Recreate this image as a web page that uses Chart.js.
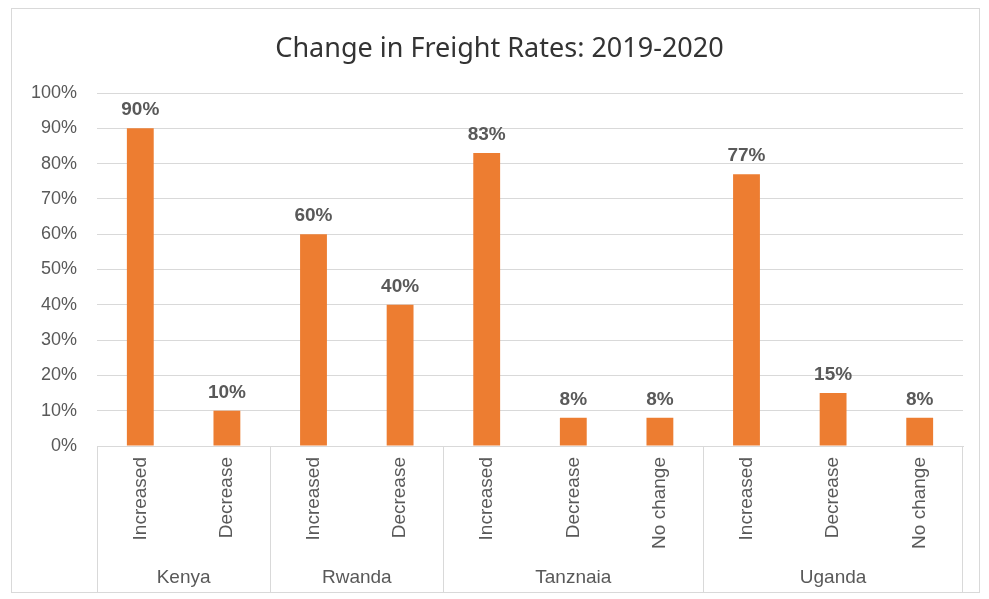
<!DOCTYPE html>
<html lang="en">
<head>
    <meta charset="UTF-8">
    <title>Change in Freight Rates: 2019-2020</title>
    <script src="https://cdn.jsdelivr.net/npm/chart.js"></script>
    <style>
        html, body { margin: 0; padding: 0; background: #fff; }
        .chart-box {
            position: absolute;
            left: 11px;
            top: 8px;
            width: 969px;
            height: 585px;
            box-sizing: border-box;
            border: 1px solid #d9d9d9;
        }
    </style>
</head>
<body>

<div class="chart-box">
    <canvas id="freightChart"></canvas>
</div>

<script>
    // countries and how many answers each one has
    const groups = ['Kenya', 'Rwanda', 'Tanznaia', 'Uganda'];
    const groupSizes = [2, 2, 3, 3];

    // answers, in the same order as the bars
    const categories = [
        'Increased', 'Decrease',
        'Increased', 'Decrease',
        'Increased', 'Decrease', 'No change',
        'Increased', 'Decrease', 'No change'
    ];

    // share of respondents (%)
    const values = [90, 10, 60, 40, 83, 8, 8, 77, 15, 8];

    const yTicks = [0, 10, 20, 30, 40, 50, 60, 70, 80, 90, 100];

    const labelFont = '"Liberation Sans", Arial, sans-serif';
    const grey = '#595959';

    // percentage above every bar
    const barValueLabels = {
        id: 'barValueLabels',
        afterDatasetsDraw(chart) {
            const c = chart.ctx;
            const meta = chart.getDatasetMeta(0);
            c.save();
            c.fillStyle = grey;
            c.font = 'bold 19px ' + labelFont;
            c.textAlign = 'center';
            c.textBaseline = 'alphabetic';
            meta.data.forEach((bar, i) => {
                c.fillText(values[i] + '%', bar.x, bar.y - 13);
            });
            c.restore();
        }
    };

    // second row of the x axis: country names and the lines between them
    const groupAxis = {
        id: 'groupAxis',
        afterDraw(chart) {
            const c = chart.ctx;
            const x = chart.scales.x;
            const area = chart.chartArea;
            const slot = area.width / categories.length;
            const bottom = chart.height;
            c.save();
            c.strokeStyle = '#d9d9d9';
            c.lineWidth = 1;
            c.fillStyle = grey;
            c.font = '19px ' + labelFont;
            c.textAlign = 'center';
            c.textBaseline = 'middle';
            let start = 0;
            groups.forEach((name, g) => {
                const left = x.getPixelForValue(start) - slot / 2;
                const right = x.getPixelForValue(start + groupSizes[g] - 1) + slot / 2;
                c.beginPath();
                c.moveTo(Math.round(left) + 0.5, area.bottom);
                c.lineTo(Math.round(left) + 0.5, bottom);
                if (g === groups.length - 1) {
                    c.moveTo(Math.round(right) - 0.5, area.bottom);
                    c.lineTo(Math.round(right) - 0.5, bottom);
                }
                c.stroke();
                c.fillText(name, (left + right) / 2, 569);
                start += groupSizes[g];
            });
            c.restore();
        }
    };

    // centre the title on the whole canvas rather than the padded box
    const titleCentre = {
        id: 'titleCentre',
        afterLayout(chart) {
            const t = chart.titleBlock;
            if (!t) return;
            const shift = (chart.width - (t.left + t.right)) / 2 + 4;
            t.left += shift;
            t.right += shift;
        }
    };

    const ctx = document.getElementById('freightChart').getContext('2d');

    new Chart(ctx, {
        type: 'bar',
        data: {
            labels: categories,
            datasets: [{
                data: values,
                backgroundColor: '#ED7D31',
                borderWidth: 0,
                categoryPercentage: 1,
                barPercentage: 0.31
            }]
        },
        options: {
            responsive: true,
            maintainAspectRatio: false,
            animation: false,
            layout: {
                padding: { left: 0, right: 16, top: 0, bottom: 0 }
            },
            plugins: {
                legend: { display: false },
                tooltip: { enabled: false },
                title: {
                    display: true,
                    text: 'Change in Freight Rates: 2019-2020',
                    color: '#333333',
                    font: { family: '"Noto Sans", "Open Sans", sans-serif', size: 27, weight: 'normal' },
                    padding: { top: 24, bottom: 27.6 }
                }
            },
            scales: {
                x: {
                    grid: { display: false, drawTicks: false },
                    border: { display: true, color: '#d9d9d9' },
                    ticks: {
                        autoSkip: false,
                        minRotation: 90,
                        maxRotation: 90,
                        padding: 11,
                        color: grey,
                        font: { family: labelFont, size: 19 }
                    },
                    afterFit(scale) { scale.height = 146; }
                },
                y: {
                    min: 0,
                    max: 100,
                    grid: { color: '#d9d9d9', drawTicks: false },
                    border: { display: false },
                    afterBuildTicks(scale) {
                        scale.ticks = yTicks.map(v => ({ value: v }));
                    },
                    ticks: {
                        padding: 20,
                        color: grey,
                        font: { family: labelFont, size: 18 },
                        callback: v => v + '%'
                    },
                    afterFit(scale) { scale.width = 85; }
                }
            }
        },
        plugins: [barValueLabels, groupAxis, titleCentre]
    });
</script>

</body>
</html>
